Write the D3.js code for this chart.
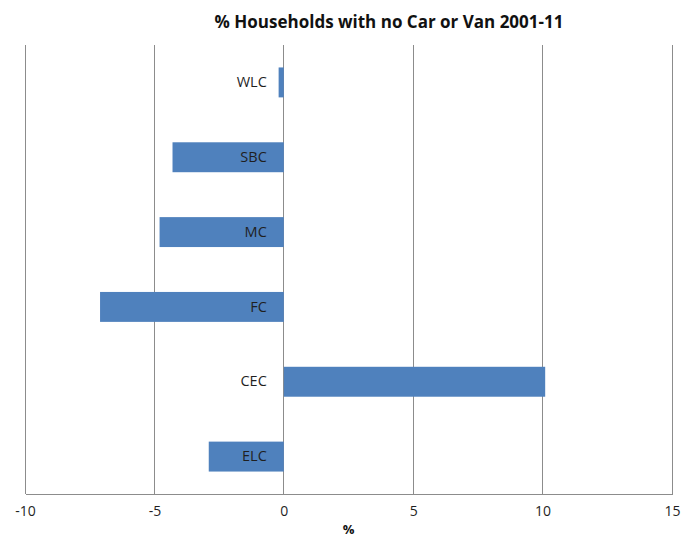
<!DOCTYPE html>
<html>
<head>
<meta charset="utf-8">
<script src="https://cdn.jsdelivr.net/npm/d3@7"></script>
<style>
  html, body { margin: 0; padding: 0; background: #ffffff; }
  svg { display: block; }
</style>
</head>
<body>
<svg id="chart" width="681" height="539"></svg>
<script>
// Change in share of households with no car or van, 2001-11 (%)
const categories = ["WLC", "SBC", "MC", "FC", "CEC", "ELC"];
const changes = [-0.2, -4.3, -4.8, -7.1, 10.1, -2.9];
const xTicks = [-10, -5, 0, 5, 10, 15];
const titleText = "% Households with no Car or Van 2001-11";
const xTitle = "%";

const svg = d3.select("#chart");
const font = "'Open Sans', 'Liberation Sans', sans-serif";

const plot = { left: 25, right: 672, top: 45, bottom: 494 };

const x = d3.scaleLinear().domain([-10, 15]).range([plot.left, plot.right]);
const y = d3.scaleBand().domain(categories).range([plot.top, plot.bottom]).paddingInner(0.6).paddingOuter(0.3);

// vertical gridlines
svg.append("g")
  .selectAll("line")
  .data(xTicks)
  .join("line")
  .attr("x1", d => x(d)).attr("x2", d => x(d))
  .attr("y1", plot.top).attr("y2", plot.bottom)
  .attr("stroke", "#8c8c8c")
  .attr("stroke-width", 1)
  .attr("shape-rendering", "crispEdges");

// bars
svg.append("g")
  .selectAll("rect")
  .data(categories.map((c, i) => ({ c, v: changes[i] })))
  .join("rect")
  .attr("x", d => x(Math.min(0, d.v)))
  .attr("width", d => Math.abs(x(d.v) - x(0)))
  .attr("y", d => y(d.c))
  .attr("height", y.bandwidth())
  .attr("fill", "#4f81bd");

// bottom axis
const xAxis = d3.axisBottom(x).tickValues(xTicks).tickSize(0).tickPadding(12).tickFormat(d => String(d));
const gx = svg.append("g")
  .attr("transform", `translate(0,${plot.bottom})`)
  .call(xAxis);
gx.select(".domain").attr("stroke", "#8c8c8c").attr("shape-rendering", "crispEdges");
gx.selectAll("text")
  .attr("font-family", font)
  .attr("font-size", 14)
  .attr("fill", "#1f1f1f");

// category labels along the zero line
const yAxis = d3.axisLeft(y).tickSize(0).tickPadding(17);
const gy = svg.append("g")
  .attr("transform", `translate(${x(0)},0)`)
  .call(yAxis);
gy.select(".domain").remove();
gy.selectAll("text")
  .attr("font-family", font)
  .attr("font-size", 14.5)
  .attr("fill", "#1f1f1f");

// titles
svg.append("text")
  .attr("x", 389).attr("y", 28)
  .attr("text-anchor", "middle")
  .attr("font-family", font)
  .attr("font-weight", "bold")
  .attr("font-size", 17)
  .attr("fill", "#111")
  .text(titleText);

svg.append("text")
  .attr("x", (plot.left + plot.right) / 2).attr("y", 534)
  .attr("text-anchor", "middle")
  .attr("font-family", font)
  .attr("font-weight", "bold")
  .attr("font-size", 13)
  .attr("fill", "#111")
  .text(xTitle);
</script>
</body>
</html>
